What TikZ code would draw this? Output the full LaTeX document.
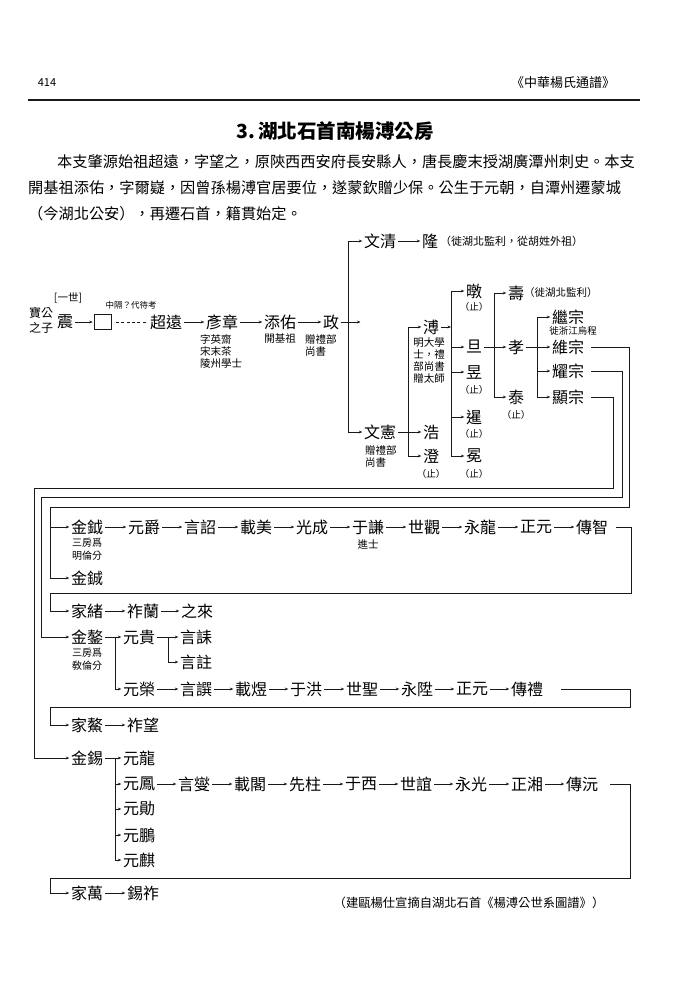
\documentclass[tikz,border=0pt]{standalone}
\usepackage{fontspec}
\setmainfont{Noto Sans CJK TC}
\usetikzlibrary{arrows.meta}

\begin{document}
\begin{tikzpicture}[x=1pt,y=-1pt,
  person/.style={font=\fontsize{16}{19}\selectfont,inner sep=0pt},
  memo/.style={font=\fontsize{10.5}{12.3}\selectfont,inner sep=0pt,align=left},
  halt/.style={font=\fontsize{9.5}{11}\selectfont,inner sep=0pt},
  para/.style={font=\fontsize{15.2}{18}\selectfont,inner sep=0pt,anchor=west},
  wire/.style={line width=0.6pt,ink},
  arr/.style={wire,-{Stealth[length=3.5pt,width=2.8pt]},shorten >=1.5pt},
  follow/.style={arr,shorten <=2pt}]
  \definecolor{ink}{RGB}{25,25,25}
  \useasboundingbox[fill=white] (0,0) rectangle (675,1000);
  \node[font=\fontsize{11}{13}\selectfont,inner sep=0pt] (pageno) at (47,83) {414};
  \node[font=\fontsize{13}{15}\selectfont,inner sep=0pt] (series) at (563,83) {《中華楊氏通譜》};
  \coordinate (ruleL) at (28,100);
  \coordinate (ruleR) at (640,100);
  \draw[line width=1.3pt,ink] (ruleL) -- (ruleR);
  \node[font=\bfseries\fontsize{19.5}{22}\selectfont,inner sep=0pt] (title) at (335,131) {3.\,湖北石首南楊溥公房};
  \node[para] (line1) at (57,162) {本支肇源始祖超遠，字望之，原陝西西安府長安縣人，唐長慶末授湖廣潭州刺史。本支};
  \node[para] (line2) at (28,188) {開基祖添佑，字爾嶷，因曾孫楊溥官居要位，遂蒙欽贈少保。公生于元朝，自潭州遷蒙城};
  \node[para] (line3) at (28,214) {（今湖北公安），再遷石首，籍貫始定。};
  % first line of descent
  \node[font=\fontsize{12}{15}\selectfont,inner sep=0pt,align=center] (baogong) at (41,320) {寶公\\之子};
  \node[font=\fontsize{10.5}{12}\selectfont,inner sep=0pt] (gen1) at (68,298) {[一世]};
  \node[person] (zhen) at (65,322) {震};
  \node[draw,wire,minimum width=17pt,minimum height=15pt,inner sep=0pt] (blank) at (103,322) {};
  \node[font=\fontsize{8.5}{10}\selectfont,inner sep=0pt] (blanknote) at (131,305) {中隔？代待考};
  \node[person] (chaoyuan) at (166,322) {超遠};
  \node[person] (yanzhang) at (222,322) {彥章};
  \node[person] (tianyou) at (280,322) {添佑};
  \node[person] (zheng) at (331,322) {政};
  \node[memo,anchor=north west] (yanzhangnote) at (200,334) {字英齋\\宋末茶\\陵州學士};
  \node[memo] (tianyounote) at (280,339) {開基祖};
  \node[memo,anchor=north west] (zhengnote) at (305,334) {贈禮部\\尚書};
  \draw[follow] (zhen) -- (blank);
  \draw[wire,dash pattern=on 3pt off 2.4pt,shorten <=4pt,shorten >=3pt] (blank) -- (chaoyuan);
  \draw[follow] (chaoyuan) -- (yanzhang);
  \draw[follow] (yanzhang) -- (tianyou);
  \draw[follow] (tianyou) -- (zheng);
  % sons of zheng
  \coordinate (trunkA) at (348,0);
  \coordinate (zhengtip) at (362,322);
  \node[person] (wenqing) at (380,241) {文清};
  \node[person] (long) at (430,241) {隆};
  \node[font=\fontsize{11}{13}\selectfont,inner sep=0pt,anchor=west] (longnote) at (440,241) {（徙湖北監利，從胡姓外祖）};
  \node[person] (wenxian) at (380,432) {文憲};
  \node[memo,anchor=north west] (wenxiannote) at (365,445) {贈禮部\\尚書};
  \draw[follow] (zheng) -- (zhengtip);
  \draw[wire] (trunkA |- wenqing) -- (trunkA |- wenxian);
  \draw[arr] (trunkA |- wenqing) -- (wenqing);
  \draw[arr] (trunkA |- wenxian) -- (wenxian);
  \draw[follow] (wenqing) -- (long);
  % sons of wenxian
  \coordinate (trunkB) at (408,0);
  \node[person] (pu) at (431,327) {溥};
  \node[memo,align=center,anchor=north] (punote) at (429,337) {明大學\\士，禮\\部尚書\\贈太師};
  \node[person] (hao) at (431,432) {浩};
  \node[person] (cheng) at (431,456) {澄};
  \node[halt] (chengstop) at (431,474) {（止）};
  \draw[wire] (trunkB |- pu) -- (trunkB |- cheng);
  \draw[arr] (trunkB |- pu) -- (pu);
  \draw[arr] (trunkB |- cheng) -- (cheng);
  \draw[follow] (wenxian) -- (hao);
  % sons of pu
  \coordinate (trunkC) at (451,0);
  \node[person] (tun) at (474,291) {暾};
  \node[halt] (tunstop) at (474,307) {（止）};
  \node[person] (dan) at (474,347) {旦};
  \node[person] (yu) at (474,372) {昱};
  \node[halt] (yustop) at (474,390) {（止）};
  \node[person] (xian) at (474,417) {暹};
  \node[halt] (xianstop) at (474,434) {（止）};
  \node[person] (mian) at (474,456) {冕};
  \node[halt] (mianstop) at (474,474) {（止）};
  \draw[follow,shorten >=0pt] (pu) -- (trunkC |- pu);
  \draw[wire] (trunkC |- tun) -- (trunkC |- mian);
  \draw[arr] (trunkC |- tun) -- (tun);
  \draw[arr] (trunkC |- dan) -- (dan);
  \draw[arr] (trunkC |- yu) -- (yu);
  \draw[arr] (trunkC |- xian) -- (xian);
  \draw[arr] (trunkC |- mian) -- (mian);
  % sons of dan
  \coordinate (trunkD) at (494,0);
  \node[person] (shou) at (516,293) {壽};
  \node[font=\fontsize{10.5}{12}\selectfont,inner sep=0pt,anchor=west] (shounote) at (524,293) {（徙湖北監利）};
  \node[person] (xiao) at (516,347) {孝};
  \node[person] (tai) at (516,397) {泰};
  \node[halt] (taistop) at (516,415) {（止）};
  \draw[wire] (trunkD |- shou) -- (trunkD |- tai);
  \draw[arr] (trunkD |- shou) -- (shou);
  \draw[arr] (trunkD |- tai) -- (tai);
  \draw[follow] (dan) -- (xiao);
  % sons of xiao
  \coordinate (trunkE) at (537,0);
  \node[person] (jizong) at (568,317) {繼宗};
  \node[font=\fontsize{9.5}{11}\selectfont,inner sep=0pt] (jizongnote) at (573,331) {徙浙江烏程};
  \node[person] (weizong) at (568,347) {維宗};
  \node[person] (yaozong) at (568,371) {耀宗};
  \node[person] (xianzong) at (568,397) {顯宗};
  \draw[wire] (trunkE |- jizong) -- (trunkE |- xianzong);
  \draw[arr] (trunkE |- jizong) -- (jizong);
  \draw[arr] (trunkE |- yaozong) -- (yaozong);
  \draw[arr] (trunkE |- xianzong) -- (xianzong);
  \draw[follow] (xiao) -- (weizong);
  % weizong line
  \node[person] (jinyue) at (87,527) {金鉞};
  \node[memo,align=center,anchor=north,font=\fontsize{10}{13}\selectfont] (jinyuenote) at (87,538) {三房爲\\明倫分};
  \node[person] (yuanjue) at (144,527) {元爵};
  \node[person] (yanzhao) at (200,527) {言詔};
  \node[person] (zaimei) at (256,527) {載美};
  \node[person] (guangcheng) at (312,527) {光成};
  \node[person] (yuqian) at (368,527) {于謙};
  \node[memo] (yuqiannote) at (368,545) {進士};
  \node[person] (shiguan) at (424,527) {世觀};
  \node[person] (yonglong) at (480,527) {永龍};
  \node[person] (zhengyuan) at (536,527) {正元};
  \node[person] (chuanzhi) at (592,527) {傳智};
  \node[person] (jincheng) at (87,578) {金鋮};
  \coordinate (loopA) at (629,507);
  \coordinate (loopAleft) at (50,507);
  \draw[arr] ([xshift=7pt]weizong.east) -- (loopA |- weizong) -- (loopA) -- (loopAleft) -- (loopAleft |- jincheng) -- (jincheng);
  \draw[arr] (loopAleft |- jinyue) -- (jinyue);
  \draw[follow] (jinyue) -- (yuanjue);
  \draw[follow] (yuanjue) -- (yanzhao);
  \draw[follow] (yanzhao) -- (zaimei);
  \draw[follow] (zaimei) -- (guangcheng);
  \draw[follow] (guangcheng) -- (yuqian);
  \draw[follow] (yuqian) -- (shiguan);
  \draw[follow] (shiguan) -- (yonglong);
  \draw[follow] (yonglong) -- (zhengyuan);
  \draw[follow] (zhengyuan) -- (chuanzhi);
  % chuanzhi line
  \node[person] (jiaxu) at (87,611) {家緒};
  \node[person] (zuolan) at (143,611) {祚蘭};
  \node[person] (zhilai) at (197,611) {之來};
  \coordinate (loopD) at (631,593);
  \coordinate (loopDleft) at (50,593);
  \draw[arr] ([xshift=8pt]chuanzhi.east) -- (loopD |- chuanzhi) -- (loopD) -- (loopDleft) -- (loopDleft |- jiaxu) -- (jiaxu);
  \draw[follow] (jiaxu) -- (zuolan);
  \draw[follow] (zuolan) -- (zhilai);
  % yaozong line
  \node[person] (jinao) at (87,637) {金鏊};
  \node[memo,align=center,anchor=north,font=\fontsize{10}{13}\selectfont] (jinaonote) at (87,648) {三房爲\\敎倫分};
  \node[person] (yuangui) at (139,637) {元貴};
  \node[person] (yanlei) at (196,637) {言誄};
  \node[person] (yanzhu) at (196,662) {言註};
  \node[person] (yuanrong) at (139,689) {元榮};
  \node[person] (yanzhuan) at (196,689) {言譔};
  \node[person] (zaiyu) at (251,689) {載煜};
  \node[person] (yuhong) at (306,689) {于洪};
  \node[person] (shisheng) at (362,689) {世聖};
  \node[person] (yongsheng) at (417,689) {永陞};
  \node[person] (zhengyuanb) at (472,689) {正元};
  \node[person] (chuanli) at (527,689) {傳禮};
  \coordinate (loopB) at (622,497);
  \coordinate (loopBleft) at (41,497);
  \coordinate (trunkF) at (115,0);
  \coordinate (trunkG) at (168,0);
  \draw[arr] ([xshift=7pt]yaozong.east) -- (loopB |- yaozong) -- (loopB) -- (loopBleft) -- (loopBleft |- jinao) -- (jinao);
  \draw[follow] (jinao) -- (yuangui);
  \draw[wire] (trunkF |- yuangui) -- (trunkF |- yuanrong);
  \draw[arr] (trunkF |- yuanrong) -- (yuanrong);
  \draw[follow] (yuangui) -- (yanlei);
  \draw[wire] (trunkG |- yanlei) -- (trunkG |- yanzhu);
  \draw[arr] (trunkG |- yanzhu) -- (yanzhu);
  \draw[follow] (yuanrong) -- (yanzhuan);
  \draw[follow] (yanzhuan) -- (zaiyu);
  \draw[follow] (zaiyu) -- (yuhong);
  \draw[follow] (yuhong) -- (shisheng);
  \draw[follow] (shisheng) -- (yongsheng);
  \draw[follow] (yongsheng) -- (zhengyuanb);
  \draw[follow] (zhengyuanb) -- (chuanli);
  % chuanli line
  \node[person] (jiaao) at (87,725) {家鰲};
  \node[person] (zuowang) at (143,725) {祚望};
  \coordinate (loopE) at (630,707);
  \coordinate (loopEleft) at (50,707);
  \draw[arr] ([xshift=18pt]chuanli.east) -- (loopE |- chuanli) -- (loopE) -- (loopEleft) -- (loopEleft |- jiaao) -- (jiaao);
  \draw[follow] (jiaao) -- (zuowang);
  % xianzong line
  \node[person] (jinxi) at (87,758) {金錫};
  \node[person] (yuanlong) at (139,758) {元龍};
  \node[person] (yuanfeng) at (139,784) {元鳳};
  \node[person] (yuanxun) at (139,809) {元勛};
  \node[person] (yuanpeng) at (139,835) {元鵬};
  \node[person] (yuanqi) at (139,860) {元麒};
  \node[person] (yanxie) at (194,784) {言燮};
  \node[person] (zaige) at (250,784) {載閣};
  \node[person] (xianzhu) at (305,784) {先柱};
  \node[person] (yuxi) at (361,784) {于西};
  \node[person] (shiyi) at (416,784) {世誼};
  \node[person] (yongguang) at (471,784) {永光};
  \node[person] (zhengxiang) at (527,784) {正湘};
  \node[person] (chuanyuan) at (582,784) {傳沅};
  \coordinate (loopC) at (613,488);
  \coordinate (loopCleft) at (34,488);
  \coordinate (trunkH) at (115,0);
  \draw[arr] ([xshift=7pt]xianzong.east) -- (loopC |- xianzong) -- (loopC) -- (loopCleft) -- (loopCleft |- jinxi) -- (jinxi);
  \draw[follow] (jinxi) -- (yuanlong);
  \draw[wire] (trunkH |- yuanlong) -- (trunkH |- yuanqi);
  \draw[arr] (trunkH |- yuanfeng) -- (yuanfeng);
  \draw[arr] (trunkH |- yuanxun) -- (yuanxun);
  \draw[arr] (trunkH |- yuanpeng) -- (yuanpeng);
  \draw[arr] (trunkH |- yuanqi) -- (yuanqi);
  \draw[follow] (yuanfeng) -- (yanxie);
  \draw[follow] (yanxie) -- (zaige);
  \draw[follow] (zaige) -- (xianzhu);
  \draw[follow] (xianzhu) -- (yuxi);
  \draw[follow] (yuxi) -- (shiyi);
  \draw[follow] (shiyi) -- (yongguang);
  \draw[follow] (yongguang) -- (zhengxiang);
  \draw[follow] (zhengxiang) -- (chuanyuan);
  % chuanyuan line
  \node[person] (jiawan) at (87,893) {家萬};
  \node[person] (xizuo) at (143,893) {錫祚};
  \coordinate (loopF) at (630,878);
  \coordinate (loopFleft) at (50,878);
  \draw[arr] ([xshift=12pt]chuanyuan.east) -- (loopF |- chuanyuan) -- (loopF) -- (loopFleft) -- (loopFleft |- jiawan) -- (jiawan);
  \draw[follow] (jiawan) -- (xizuo);
  \node[font=\fontsize{12.3}{14}\selectfont,inner sep=0pt] (source) at (469,903) {（建甌楊仕宣摘自湖北石首《楊溥公世系圖譜》）};
\end{tikzpicture}
\end{document}
